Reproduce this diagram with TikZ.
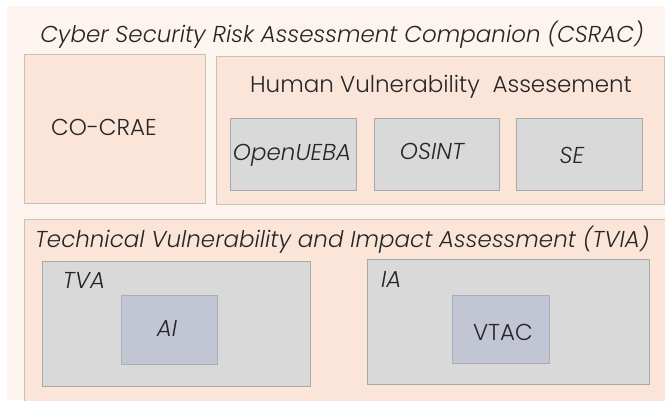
\documentclass[tikz,border=0pt]{standalone}
\usepackage{fontspec}
\setmainfont{Poppins}[UprightFont=* Light, ItalicFont=* Light Italic]
\begin{document}
\begin{tikzpicture}[x=1pt,y=-1pt,
  every node/.style={inner sep=0pt, outer sep=0pt},
  peach/.style={draw=boxline, fill=peachfill, line width=0.9pt},
  graybox/.style={draw=grayline, fill=grayfill, line width=0.9pt},
  bluebox/.style={draw=blueline, fill=bluefill, line width=0.9pt},
  lbl/.style={text=txt, font=\fontsize{23}{26}\selectfont},
  ilbl/.style={text=txt, font=\fontsize{23}{26}\selectfont\itshape}]
\definecolor{bgpink}{HTML}{FDF3EF}
\definecolor{peachfill}{HTML}{FBE5D9}
\definecolor{boxline}{HTML}{C9C0BA}
\definecolor{grayfill}{HTML}{D9D9D9}
\definecolor{grayline}{HTML}{A8A8A8}
\definecolor{bluefill}{HTML}{C1C5D4}
\definecolor{blueline}{HTML}{AAACB8}
\definecolor{txt}{HTML}{262626}
\useasboundingbox (0,0) rectangle (665,400);
\clip (0,0) rectangle (665,400);
\fill[white] (0,0) rectangle (665,400);
\fill[bgpink] (7,6) rectangle (665,400);
% title
\node[ilbl, anchor=base] (title) at (342,42) {Cyber Security Risk Assessment Companion (CSRAC)};
% CO-CRAE
\node[peach, anchor=north west, minimum width=181pt, minimum height=149pt] (co) at (24,54) {};
\node[lbl, anchor=base] (colbl) at (104,135) {CO-CRAE};
% HVA
\node[peach, anchor=north west, minimum width=448pt, minimum height=148pt] (hva) at (216,56) {};
\node[lbl, anchor=base] (hvalbl) at (441,92) {Human Vulnerability\ \ Assesement};
\node[graybox, anchor=north west, minimum width=126pt, minimum height=72pt] (ueba) at (230,118) {};
\node[graybox, anchor=north west, minimum width=125pt, minimum height=72pt] (osint) at (374,118) {};
\node[graybox, anchor=north west, minimum width=126pt, minimum height=72pt] (se) at (516,118) {};
\node[ilbl, anchor=base] (uebalbl) at (292,160) {OpenUEBA};
\node[ilbl, anchor=base] (osintlbl) at (432,159) {OSINT};
\node[ilbl, anchor=base] (selbl) at (572,163) {SE};
% TVIA
\node[peach, anchor=north west, minimum width=660pt, minimum height=200pt] (tvia) at (24,219) {};
\node[ilbl, anchor=base west] (tvialbl) at (35,247) {Technical Vulnerability and Impact Assessment (TVIA)};
\node[graybox, anchor=north west, minimum width=268pt, minimum height=125pt] (tva) at (42,261) {};
\node[ilbl, anchor=base west] (tvalbl) at (63,288) {TVA};
\node[bluebox, anchor=north west, minimum width=96pt, minimum height=69pt] (ai) at (121,295) {};
\node[ilbl, anchor=base] (ailbl) at (167,336) {AI};
\node[graybox, anchor=north west, minimum width=282pt, minimum height=125pt] (ia) at (367,259) {};
\node[ilbl, anchor=base west] (ialbl) at (381,287) {IA};
\node[bluebox, anchor=north west, minimum width=97pt, minimum height=68pt] (vtac) at (452,295) {};
\node[lbl, anchor=base] (vtaclbl) at (503,340) {VTAC};
\end{tikzpicture}
\end{document}
